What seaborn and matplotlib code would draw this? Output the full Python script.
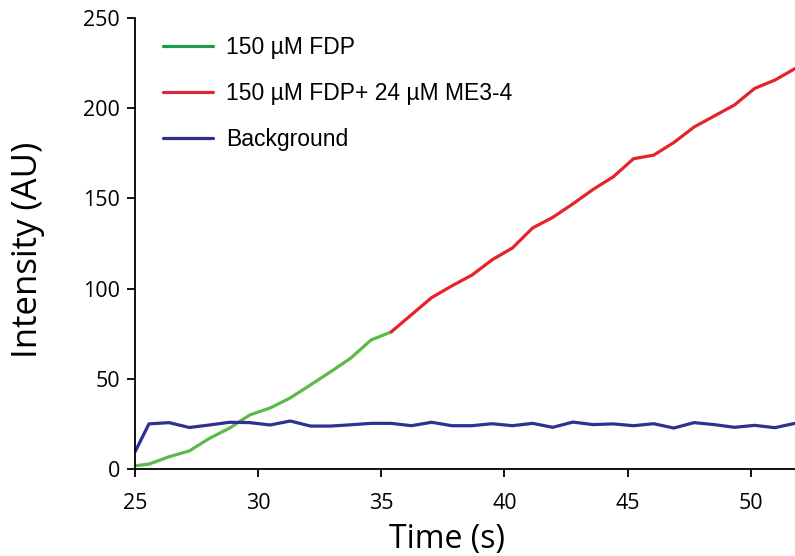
import matplotlib
matplotlib.use("Agg")
import matplotlib.pyplot as plt
import seaborn as sns
import pandas as pd

time_s = [25.0, 25.56, 26.38, 27.2, 28.02, 28.84, 29.66, 30.48, 31.3, 32.12,
          32.94, 33.76, 34.58, 35.4, 36.22, 37.04, 37.86, 38.68, 39.5, 40.32,
          41.14, 41.96, 42.78, 43.6, 44.42, 45.24, 46.06, 46.88, 47.7, 48.52,
          49.34, 50.16, 50.98, 51.8]

fdp = [1.8, 2.7, 6.8, 10.0, 17.0, 22.7, 30.0, 33.8, 39.4, 46.6, 53.9, 61.5, 71.5, 76.0]

fdp_me = [76.0, 85.5, 95.0, 101.5, 107.5, 116.0, 122.5, 133.6, 139.5, 147.0,
          155.0, 162.0, 172.0, 174.0, 181.0, 189.6, 195.7, 201.8, 211.0, 215.6, 222.0]

background = [9.6, 25.0, 25.7, 23.0, 24.4, 25.9, 25.7, 24.4, 26.6, 23.8,
              23.8, 24.5, 25.3, 25.3, 24.0, 25.9, 24.0, 24.0, 25.1, 24.0,
              25.3, 23.1, 26.0, 24.6, 25.0, 24.0, 25.1, 22.7, 25.7, 24.6,
              23.1, 24.2, 22.9, 25.3]

labels = ["150 \u00b5M FDP", "150 \u00b5M FDP+ 24 \u00b5M ME3-4", "Background"]
colors = ["#5cb94a", "#e52329", "#2e3192"]
legend_colors = ["#1f9a4a", "#e0243a", "#2e3192"]

sns.set_style("ticks")
plt.rcParams["font.family"] = ["Open Sans", "DejaVu Sans"]
plt.rcParams["text.color"] = "black"
plt.rcParams["axes.labelcolor"] = "black"
plt.rcParams["xtick.color"] = "black"
plt.rcParams["ytick.color"] = "black"

fig = plt.figure(figsize=(7.95, 5.56), dpi=100)
ax = fig.add_axes([0.170, 0.1565, 0.830, 0.811])

df_g = pd.DataFrame({"t": time_s[:len(fdp)], "v": fdp})
df_r = pd.DataFrame({"t": time_s[len(fdp) - 1:], "v": fdp_me})
df_b = pd.DataFrame({"t": time_s, "v": background})

sns.lineplot(data=df_g, x="t", y="v", ax=ax, color=colors[0], lw=2.3, label=labels[0])
sns.lineplot(data=df_r, x="t", y="v", ax=ax, color=colors[1], lw=2.3, label=labels[1])
sns.lineplot(data=df_b, x="t", y="v", ax=ax, color=colors[2], lw=2.3, label=labels[2])

ax.set_xlim(25, 51.8)
ax.set_ylim(0, 250)
ax.set_xticks([25, 30, 35, 40, 45, 50])
ax.set_yticks([0, 50, 100, 150, 200, 250])
ax.tick_params(axis="both", direction="out", length=6, width=1.3, labelsize=15.5,
               color="black", labelcolor="black", pad=5)
ax.tick_params(axis="x", pad=11)
for s in ["left", "bottom"]:
    ax.spines[s].set_linewidth(1.3)
    ax.spines[s].set_color("black")
sns.despine(ax=ax, top=True, right=True)

ax.set_xlabel("Time (s)", fontsize=23)
ax.set_ylabel("Intensity (AU)", fontsize=25)
ax.xaxis.set_label_coords(0.473, -0.157)
ax.yaxis.set_label_coords(-0.162, 0.486)
ax.xaxis.label.set_va("center")
ax.yaxis.label.set_va("center")

leg = ax.legend(loc="upper left", bbox_to_anchor=(0.042, 0.96), frameon=False,
                prop={"family": "Liberation Sans", "size": 16.5},
                handlelength=2.2, handletextpad=0.55, labelspacing=1.0,
                borderaxespad=0.0, borderpad=0.0)
for line, c in zip(leg.get_lines(), legend_colors):
    line.set_linewidth(2.3)
    line.set_color(c)
for t in leg.get_texts():
    t.set_color("black")

fig.savefig("out.png", dpi=100)
